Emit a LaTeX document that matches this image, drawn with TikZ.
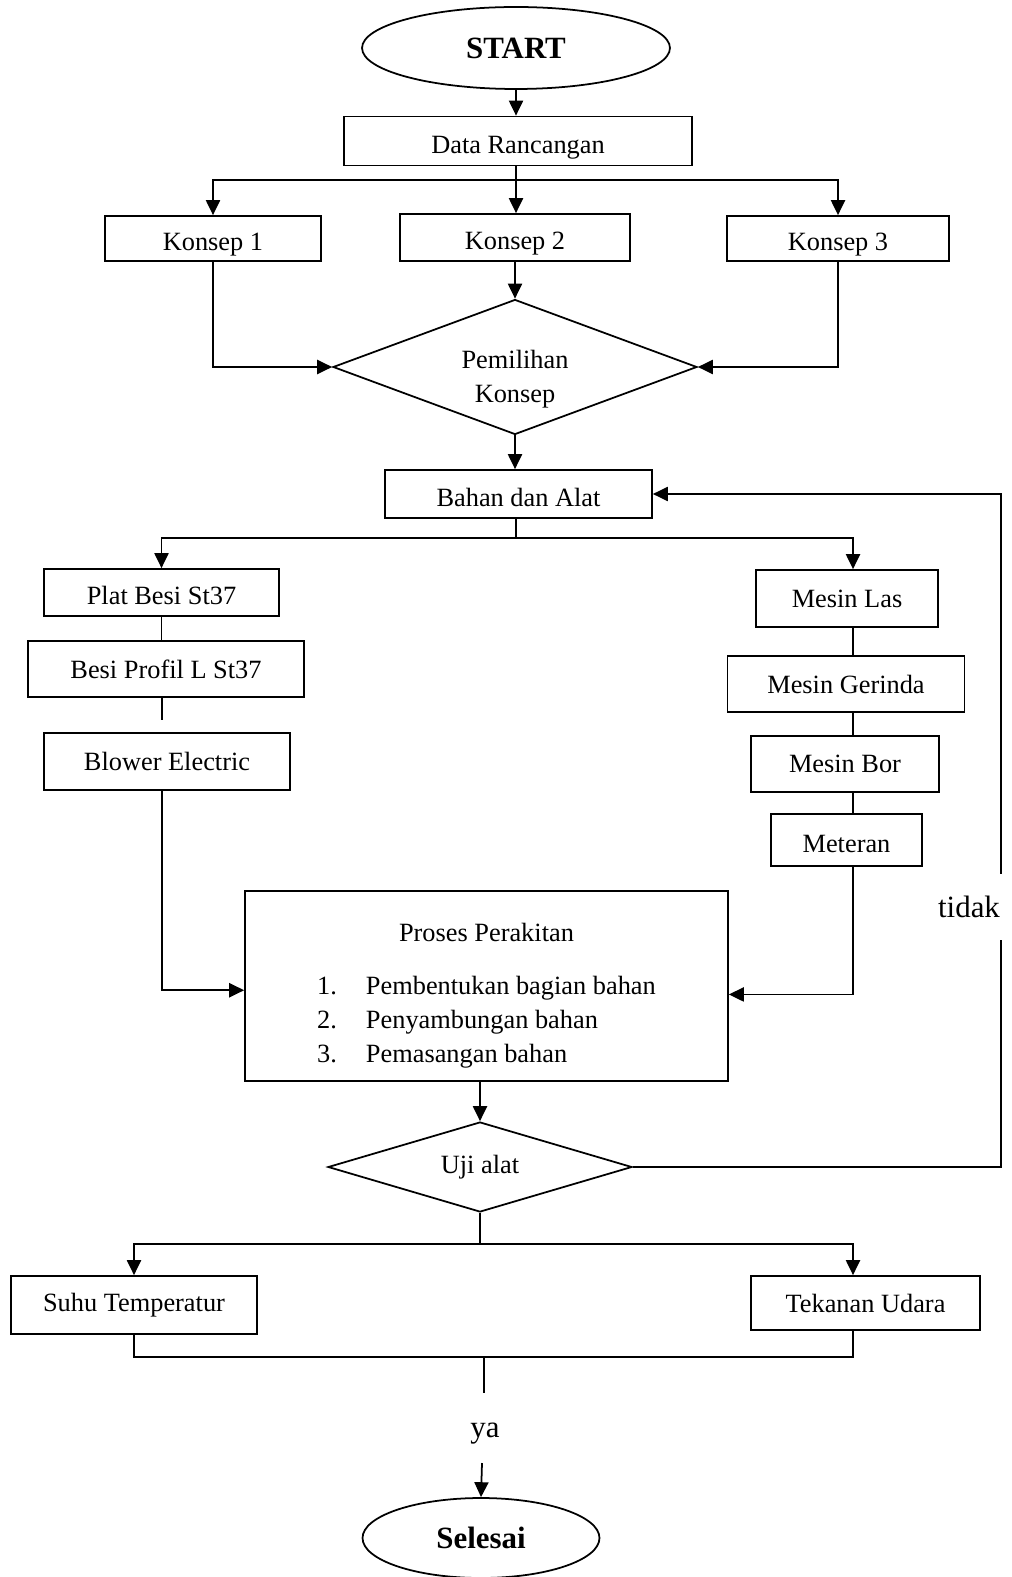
\documentclass[tikz,border=0pt]{standalone}
\usepackage{fontspec}
\setmainfont{Liberation Serif}
\usetikzlibrary{shapes.geometric,arrows.meta}

\tikzset{
  box/.style={draw, rectangle, line width=1pt, inner sep=0pt, font=\fontsize{15}{19.4}\selectfont},
  low/.style={text height=13.7pt, text depth=0pt},
  term/.style={draw, ellipse, line width=1pt, inner sep=0pt, font=\fontsize{17.6}{21}\selectfont\bfseries},
  decide/.style={draw, diamond, line width=1pt, inner sep=0pt, align=center, font=\fontsize{15}{19.4}\selectfont},
  flow/.style={line width=1pt, -{Triangle[length=8.5pt,width=8pt]}},
  link/.style={line width=1pt},
  answer/.style={inner sep=0pt, font=\fontsize{17.6}{21}\selectfont}
}

\begin{document}
\begin{tikzpicture}[x=0.02cm, y=-0.02cm]
  \useasboundingbox (0,0) rectangle (1011,1577);

  \node[term, minimum width=6.16cm, minimum height=1.64cm] (start) at (516,48) {START};
  \node[box, low, minimum width=6.96cm, minimum height=0.98cm] (data) at (518,141) {Data Rancangan};
  \node[box, low, minimum width=4.32cm, minimum height=0.9cm] (k1) at (213,238.5) {Konsep 1};
  \node[box, low, minimum width=4.6cm, minimum height=0.94cm] (k2) at (515,237.5) {Konsep 2};
  \node[box, low, minimum width=4.44cm, minimum height=0.9cm] (k3) at (838,238.5) {Konsep 3};
  \node[decide, aspect=2.7, minimum width=7.28cm, minimum height=2.7cm] (pem) at (515,367) {\rule{0pt}{24pt}Pemilihan\\Konsep};
  \node[box, low, minimum width=5.34cm, minimum height=0.96cm] (bahan) at (518.5,494) {Bahan dan Alat};

  \node[box, low, minimum width=4.7cm, minimum height=0.94cm] (plat) at (161.5,592.5) {Plat Besi St37};
  \node[box, minimum width=5.52cm, minimum height=1.12cm] (profil) at (166,669) {Besi Profil L St37};
  \node[box, minimum width=4.92cm, minimum height=1.14cm] (blower) at (167,761.5) {Blower Electric};

  \node[box, minimum width=3.64cm, minimum height=1.14cm] (las) at (847,598.5) {Mesin Las};
  \node[box, minimum width=4.74cm, minimum height=1.12cm] (gerinda) at (846,684) {Mesin Gerinda};
  \node[box, minimum width=3.76cm, minimum height=1.12cm] (bor) at (845,764) {Mesin Bor};
  \node[box, low, minimum width=3.02cm, minimum height=1.04cm] (meteran) at (846.5,840) {Meteran};

  \node[box, minimum width=9.66cm, minimum height=3.8cm] (proses) at (486.5,986) {%
    \begin{tabular}{@{}l@{\hspace{16.5pt}}l@{}}
      \multicolumn{2}{c}{\rule{0pt}{23.8pt}Proses Perakitan}\\[10.8pt]
      1. & Pembentukan bagian bahan\\
      2. & Penyambungan bahan\\
      3. & Pemasangan bahan
    \end{tabular}};
  \node[decide, aspect=3.38, minimum width=6.08cm, minimum height=1.8cm] (uji) at (480,1167) {Uji alat};

  \node[box, minimum width=4.92cm, minimum height=1.16cm] (suhu) at (134,1305) {Suhu Temperatur};
  \node[box, minimum width=4.58cm, minimum height=1.08cm] (tekanan) at (865.5,1303) {Tekanan Udara};
  \node[term, minimum width=4.74cm, minimum height=1.6cm] (selesai) at (481,1538) {Selesai};
  \node[answer] (ya) at (485,1434) {ya};

  \coordinate (split1) at (516,180);
  \coordinate (split2) at (516,538);
  \coordinate (split3) at (480,1244);
  \coordinate (join) at (484,1357);
  \coordinate (rl) at (853,0);
  \coordinate (stub) at (162,720);
  \coordinate (back) at (1001,1167);
  \coordinate (yatop) at (484,1393);
  \coordinate (yaarrow) at (482,1463);

  % top part
  \draw[flow] (start.south) -- (start.south |- data.north);
  \draw[link] (data.south -| split1) -- (split1);
  \draw[flow] (split1) -| (k1.north);
  \draw[flow] (split1) -- (split1 |- k2.north);
  \draw[flow] (split1) -| (k3.north);
  \draw[flow] (k1.south) |- (pem.west);
  \draw[flow] (k2.south) -- (pem.north);
  \draw[flow] (k3.south) |- (pem.east);
  \draw[flow] (pem.south) -- (pem.south |- bahan.north);

  % bahan dan alat
  \draw[link] (bahan.south -| split2) -- (split2);
  \draw[flow] (split2) -| (plat.north);
  \draw[flow] (split2) -| (las.north -| rl);
  \draw[link] (plat.south) -- (plat.south |- profil.north);
  \draw[link] (profil.south -| stub) -- (stub);
  \draw[flow] (blower.south -| stub) |- (proses.181);
  \draw[link] (las.south -| rl) -- (gerinda.north -| rl);
  \draw[link] (gerinda.south -| rl) -- (bor.north -| rl);
  \draw[link] (bor.south -| rl) -- (meteran.north -| rl);
  \draw[flow] (meteran.south -| rl) |- (proses.358);

  % pengujian
  \draw[flow] (proses.south -| uji.north) -- (uji.north);
  \draw[flow] (uji.east) -- (back) |- (bahan.east);
  \node[answer, fill=white, minimum height=1.32cm, inner xsep=4pt] (tidak) at (969,907) {tidak};
  \draw[link] (uji.south) -- (split3);
  \draw[flow] (split3) -| (suhu.north);
  \draw[flow] (split3) -| (tekanan.north -| rl);
  \draw[link] (suhu.south) |- (join) -| (tekanan.south -| rl);
  \draw[link] (join) -- (yatop);
  \draw[flow] (yaarrow) -- (selesai.north);
\end{tikzpicture}
\end{document}
